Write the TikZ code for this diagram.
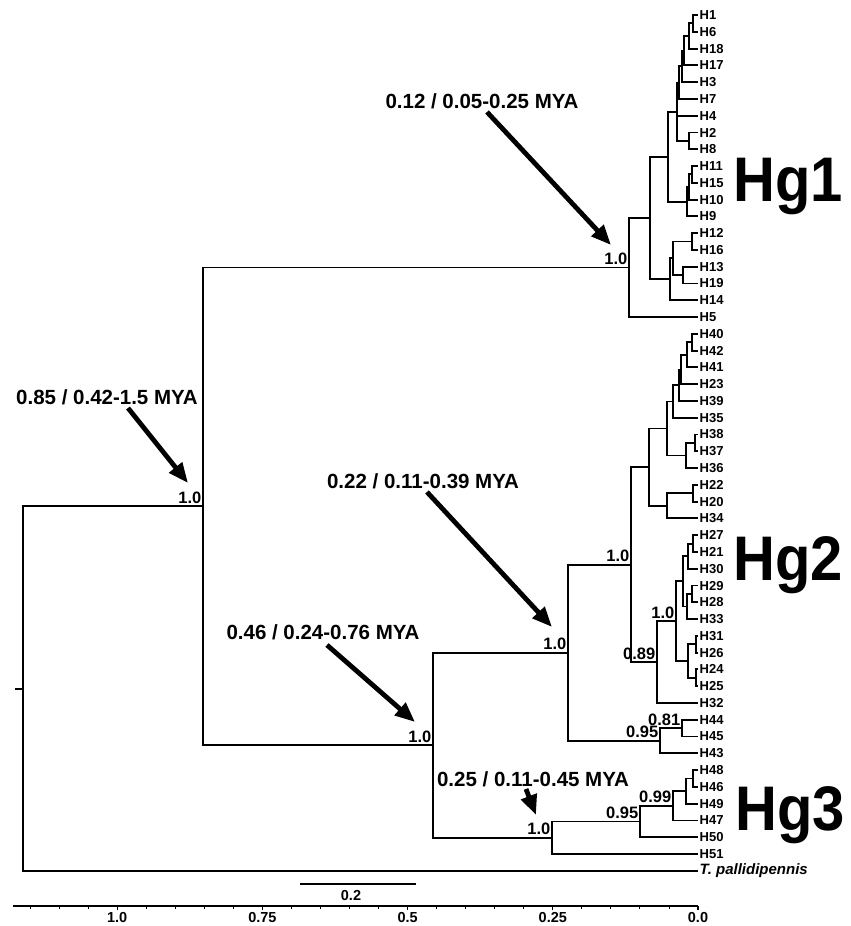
\documentclass[tikz,border=0pt]{standalone}
\usepackage{fontspec}
\setmainfont{Liberation Sans}
\usetikzlibrary{arrows.meta}
\begin{document}
\begin{tikzpicture}[x=1pt,y=-1pt,
  br/.style={line width=1.9pt},
  leaf/.style={anchor=west, inner xsep=1.5pt, inner ysep=0pt, font=\bfseries\fontsize{13}{13}\selectfont},
  sup/.style={anchor=south east, inner sep=0pt, xshift=-1.5pt, yshift=2.5pt, font=\bfseries\fontsize{16.5}{16.5}\selectfont},
  mya/.style={inner sep=0pt, font=\bfseries\fontsize{20.5}{20.5}\selectfont},
  bigarrow/.style={line width=4.8pt, -{Triangle[length=20pt,width=16pt]}},
  hg/.style={anchor=base west, inner sep=0pt, font=\bfseries\fontsize{63}{63}\selectfont, xscale=0.92},
  axlab/.style={inner sep=0pt, font=\bfseries\fontsize{14.5}{14.5}\selectfont}]
\useasboundingbox (0,0) rectangle (851,926);
\fill[white] (0,0) rectangle (851,926);
% leaves
\node[leaf] (H1) at (698,15.00) {H1};
\node[leaf] (H6) at (698,31.78) {H6};
\node[leaf] (H18) at (698,48.56) {H18};
\node[leaf] (H17) at (698,65.34) {H17};
\node[leaf] (H3) at (698,82.12) {H3};
\node[leaf] (H7) at (698,98.90) {H7};
\node[leaf] (H4) at (698,115.68) {H4};
\node[leaf] (H2) at (698,132.46) {H2};
\node[leaf] (H8) at (698,149.24) {H8};
\node[leaf] (H11) at (698,166.02) {H11};
\node[leaf] (H15) at (698,182.80) {H15};
\node[leaf] (H10) at (698,199.58) {H10};
\node[leaf] (H9) at (698,216.36) {H9};
\node[leaf] (H12) at (698,233.14) {H12};
\node[leaf] (H16) at (698,249.92) {H16};
\node[leaf] (H13) at (698,266.70) {H13};
\node[leaf] (H19) at (698,283.48) {H19};
\node[leaf] (H14) at (698,300.26) {H14};
\node[leaf] (H5) at (698,317.04) {H5};
\node[leaf] (H40) at (698,333.82) {H40};
\node[leaf] (H42) at (698,350.60) {H42};
\node[leaf] (H41) at (698,367.38) {H41};
\node[leaf] (H23) at (698,384.16) {H23};
\node[leaf] (H39) at (698,400.94) {H39};
\node[leaf] (H35) at (698,417.72) {H35};
\node[leaf] (H38) at (698,434.50) {H38};
\node[leaf] (H37) at (698,451.28) {H37};
\node[leaf] (H36) at (698,468.06) {H36};
\node[leaf] (H22) at (698,484.84) {H22};
\node[leaf] (H20) at (698,501.62) {H20};
\node[leaf] (H34) at (698,518.40) {H34};
\node[leaf] (H27) at (698,535.18) {H27};
\node[leaf] (H21) at (698,551.96) {H21};
\node[leaf] (H30) at (698,568.74) {H30};
\node[leaf] (H29) at (698,585.52) {H29};
\node[leaf] (H28) at (698,602.30) {H28};
\node[leaf] (H33) at (698,619.08) {H33};
\node[leaf] (H31) at (698,635.86) {H31};
\node[leaf] (H26) at (698,652.64) {H26};
\node[leaf] (H24) at (698,669.42) {H24};
\node[leaf] (H25) at (698,686.20) {H25};
\node[leaf] (H32) at (698,702.98) {H32};
\node[leaf] (H44) at (698,719.76) {H44};
\node[leaf] (H45) at (698,736.54) {H45};
\node[leaf] (H43) at (698,753.32) {H43};
\node[leaf] (H48) at (698,770.10) {H48};
\node[leaf] (H46) at (698,786.88) {H46};
\node[leaf] (H49) at (698,803.66) {H49};
\node[leaf] (H47) at (698,820.44) {H47};
\node[leaf] (H50) at (698,837.22) {H50};
\node[leaf] (H51) at (698,854.00) {H51};
\node[leaf, font=\bfseries\itshape\fontsize{15}{15}\selectfont] (Tp) at (698,870.78) {T. pallidipennis};
% internal nodes
\coordinate (a1) at (693,23.39);
\coordinate (a2) at (689,35.98);
\coordinate (a3) at (684,50.66);
\coordinate (a4) at (682,66.39);
\coordinate (a5) at (679,82.65);
\coordinate (a6) at (689,140.85);
\coordinate (a7) at (677,111.75);
\coordinate (a8) at (692,174.41);
\coordinate (a9) at (689,187.00);
\coordinate (a10) at (687,201.68);
\coordinate (a11) at (668,156.70);
\coordinate (a12) at (692,241.53);
\coordinate (a13) at (683,275.09);
\coordinate (a14) at (673,258.31);
\coordinate (a15) at (670,279.29);
\coordinate (a16) at (650,218.00);
\coordinate (a17) at (629,267.50);
\coordinate (b1) at (692,342.21);
\coordinate (b2) at (687,354.80);
\coordinate (b3) at (681,369.48);
\coordinate (b4) at (679,385.21);
\coordinate (b5) at (673,401.47);
\coordinate (b6) at (695,442.89);
\coordinate (b7) at (686,455.48);
\coordinate (b8) at (667,428.47);
\coordinate (b9) at (693,493.23);
\coordinate (b10) at (667,505.80);
\coordinate (b11) at (649,467.14);
\coordinate (b12) at (693,543.57);
\coordinate (b13) at (688,556.16);
\coordinate (b14) at (692,593.91);
\coordinate (b15) at (687,606.50);
\coordinate (b16) at (683,581.33);
\coordinate (b17) at (696,644.25);
\coordinate (b18) at (696,677.81);
\coordinate (b19) at (688,661.03);
\coordinate (b20) at (676,621.18);
\coordinate (b21) at (657,662.08);
\coordinate (b22) at (631,564.61);
\coordinate (b23) at (682,728.15);
\coordinate (b24) at (660,740.74);
\coordinate (b25) at (568,652.67);
\coordinate (c1) at (693,778.49);
\coordinate (c2) at (686,791.08);
\coordinate (c3) at (673,805.76);
\coordinate (c4) at (640,821.49);
\coordinate (c5) at (552,837.75);
\coordinate (nB) at (433,745.21);
\coordinate (nA) at (203,506.36);
\coordinate (root) at (23,688.57);
\coordinate (stub) at (15,688.57);
% branches
\foreach \p/\c in {a1/H1.west,a1/H6.west,a2/a1,a2/H18.west,a3/a2,a3/H17.west,a4/a3,a4/H3.west,
  a5/a4,a5/H7.west,a6/H2.west,a6/H8.west,a7/a5,a7/H4.west,a7/a6,a8/H11.west,a8/H15.west,
  a9/a8,a9/H10.west,a10/a9,a10/H9.west,a11/a7,a11/a10,a12/H12.west,a12/H16.west,
  a13/H13.west,a13/H19.west,a14/a12,a14/a13,a15/a14,a15/H14.west,a16/a11,a16/a15,
  a17/a16,a17/H5.west,
  b1/H40.west,b1/H42.west,b2/b1,b2/H41.west,b3/b2,b3/H23.west,b4/b3,b4/H39.west,
  b5/b4,b5/H35.west,b6/H38.west,b6/H37.west,b7/b6,b7/H36.west,b8/b5,b8/b7,
  b9/H22.west,b9/H20.west,b10/b9,b10/H34.west,b11/b8,b11/b10,
  b12/H27.west,b12/H21.west,b13/b12,b13/H30.west,b14/H29.west,b14/H28.west,
  b15/b14,b15/H33.west,b16/b13,b16/b15,b17/H31.west,b17/H26.west,b18/H24.west,b18/H25.west,
  b19/b17,b19/b18,b20/b16,b20/b19,b21/b20,b21/H32.west,b22/b11,b22/b21,
  b23/H44.west,b23/H45.west,b24/b23,b24/H43.west,b25/b22,b25/b24,
  c1/H48.west,c1/H46.west,c2/c1,c2/H49.west,c3/c2,c3/H47.west,c4/c3,c4/H50.west,
  c5/c4,c5/H51.west,nB/b25,nB/c5,nA/a17,nA/nB,root/nA,root/Tp.west}
  \draw[br] (\p) |- (\c);
\draw[br] (stub) -- (root);
% support values
\node[sup] (sA) at (nA) {1.0};
\node[sup] (s17) at (a17) {1.0};
\node[sup] (sB) at (nB) {1.0};
\node[sup] (s25) at (b25) {1.0};
\node[sup] (s22) at (b22) {1.0};
\node[sup] (s20) at (b20) {1.0};
\node[sup] (s21) at (b21) {0.89};
\node[sup] (s23) at (b23) {0.81};
\node[sup] (s24) at (b24) {0.95};
\node[sup] (sc3) at (c3) {0.99};
\node[sup] (sc4) at (c4) {0.95};
\node[sup] (sc5) at (c5) {1.0};
% dating labels and arrows
\node[mya] (m1) at (482,101) {0.12 / 0.05-0.25 MYA};
\node[mya] (m2) at (107,397) {0.85 / 0.42-1.5 MYA};
\node[mya] (m3) at (423,481) {0.22 / 0.11-0.39 MYA};
\node[mya] (m4) at (323,632) {0.46 / 0.24-0.76 MYA};
\node[mya] (m5) at (533,779) {0.25 / 0.11-0.45 MYA};
\coordinate (t1) at (611,245);
\coordinate (t2) at (188,483);
\coordinate (t3) at (552,627);
\coordinate (t4) at (415,722);
\coordinate (t5) at (536,815);
\draw[bigarrow] (487,112) -- (t1);
\draw[bigarrow] (128,408) -- (t2);
\draw[bigarrow] (427,492) -- (t3);
\draw[bigarrow] (327,645) -- (t4);
\draw[bigarrow] (526,789) -- (t5);
% haplogroups
\node[hg] (hg1) at (733,201) {Hg1};
\node[hg] (hg2) at (733,580) {Hg2};
\node[hg] (hg3) at (735,830) {Hg3};
% scale bar
\coordinate (sb1) at (300,884);
\coordinate (sb2) at (416,884);
\draw[br] (sb1) -- (sb2);
\node[axlab] (sbl) at (351,895) {0.2};
% time axis
\coordinate (ax1) at (13,906);
\coordinate (ax2) at (698,906);
\draw[br] (ax1) -- (ax2);
\foreach \i in {0,...,23} {
  \pgfmathsetmacro\xx{698-29.04*\i}
  \draw[line width=0.9pt] (\xx,906) -- (\xx,908.5);
}
\foreach \i in {0,...,4} {
  \pgfmathsetmacro\xx{698-145.2*\i}
  \draw[line width=1.3pt] (\xx,906) -- (\xx,910);
}
\node[axlab] (x0) at (117.2,917) {1.0};
\node[axlab] (x1) at (262.4,917) {0.75};
\node[axlab] (x2) at (407.6,917) {0.5};
\node[axlab] (x3) at (552.8,917) {0.25};
\node[axlab] (x4) at (698,917) {0.0};
\end{tikzpicture}
\end{document}
